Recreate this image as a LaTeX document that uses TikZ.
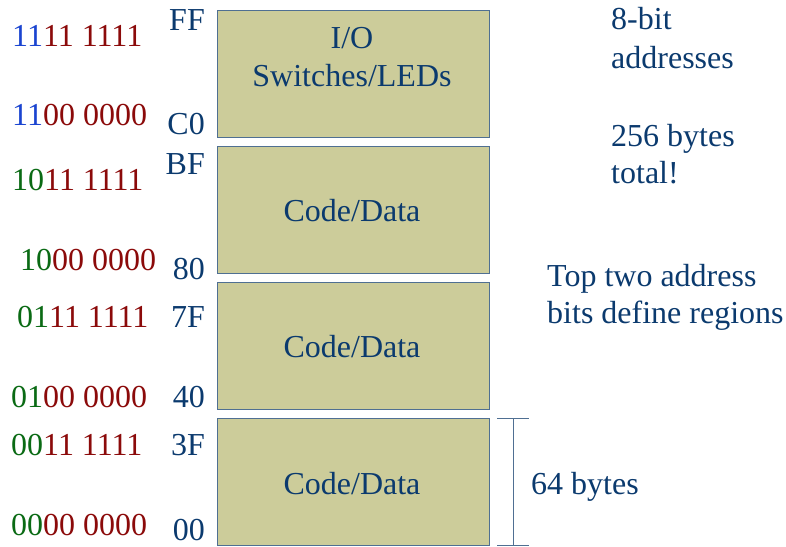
\documentclass[tikz,border=0pt]{standalone}
\usepackage{fontspec}
\setmainfont{Liberation Serif}
\definecolor{txtblue}{HTML}{0B3A6E}
\definecolor{bitred}{HTML}{8B0A0A}
\definecolor{bitgreen}{HTML}{0A6A14}
\definecolor{bitblue}{HTML}{1A44D0}
\definecolor{regionfill}{HTML}{CCCC9A}
\definecolor{regionedge}{HTML}{4F6F92}
\tikzset{
  region/.style={draw=regionedge, line width=1.2pt, fill=regionfill,
    minimum width=272pt, minimum height=127pt, anchor=north west, inner sep=0pt},
  lbl/.style={inner sep=0pt, text=txtblue, font=\fontsize{32}{38}\selectfont},
  binlbl/.style={inner sep=0pt, anchor=base west, font=\fontsize{32}{38}\selectfont},
  hexlbl/.style={lbl, anchor=base east},
  note/.style={lbl, anchor=base west},
  inbox/.style={lbl, anchor=base},
  span/.style={draw=regionedge, line width=1pt}
}
\newcommand{\Rd}[1]{\textcolor{bitred}{#1}}
\newcommand{\Gn}[1]{\textcolor{bitgreen}{#1}}
\newcommand{\Bl}[1]{\textcolor{bitblue}{#1}}
\begin{document}
\begin{tikzpicture}[x=1pt,y=-1pt]
\useasboundingbox (0,0) rectangle (786,546);

% memory regions
\node[region] (io)  at (217,10)  {};
\node[region] (cd2) at (217,146) {};
\node[region] (cd1) at (217,282) {};
\node[region] (cd0) at (217,418) {};

% region contents
\node[inbox] (iot)  at (352,48)  {I/O};
\node[inbox] (iot2) at (352,86)  {Switches/LEDs};
\node[inbox] (cd2t) at (352,221) {Code/Data};
\node[inbox] (cd1t) at (352,357) {Code/Data};
\node[inbox] (cd0t) at (352,494) {Code/Data};

% hexadecimal bounds
\node[hexlbl] (hFF) at (205,30)  {FF};
\node[hexlbl] (hC0) at (205,134) {C0};
\node[hexlbl] (hBF) at (205,174) {BF};
\node[hexlbl] (h80) at (205,279) {80};
\node[hexlbl] (h7F) at (205,327) {7F};
\node[hexlbl] (h40) at (205,407) {40};
\node[hexlbl] (h3F) at (205,455) {3F};
\node[hexlbl] (h00) at (205,540) {00};

% binary bounds, region bits highlighted
\node[binlbl] (bFF) at (12,46)  {\Bl{11}\Rd{11 1111}};
\node[binlbl] (bC0) at (12,125) {\Bl{11}\Rd{00 0000}};
\node[binlbl] (bBF) at (12,190) {\Gn{10}\Rd{11 1111}};
\node[binlbl] (b80) at (20,270) {\Gn{10}\Rd{00 0000}};
\node[binlbl] (b7F) at (17,327) {\Gn{01}\Rd{11 1111}};
\node[binlbl] (b40) at (11,407) {\Gn{01}\Rd{00 0000}};
\node[binlbl] (b3F) at (11,455) {\Gn{00}\Rd{11 1111}};
\node[binlbl] (b00) at (11,535) {\Gn{00}\Rd{00 0000}};

% notes
\node[note] (n1a) at (611,29)  {8-bit};
\node[note] (n1b) at (611,68)  {addresses};
\node[note] (n2a) at (611,146) {256 bytes};
\node[note] (n2b) at (611,183) {total!};
\node[note] (n3a) at (547,286) {Top two address};
\node[note] (n3b) at (547,323) {bits define regions};
\node[note] (n4)  at (531,494) {64 bytes};

% size bracket of one region
\coordinate (st) at (513,418);
\coordinate (sb) at (513,545);
\draw[span] (st) -- (sb);
\draw[span] ([xshift=-16pt]st) -- ([xshift=16pt]st);
\draw[span] ([xshift=-16pt]sb) -- ([xshift=16pt]sb);
\end{tikzpicture}
\end{document}
